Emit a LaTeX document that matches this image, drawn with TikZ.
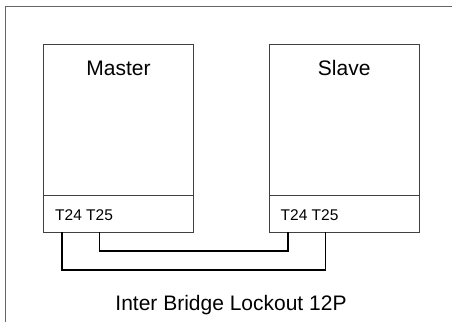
\documentclass[tikz,border=0pt]{standalone}
\usepackage{fontspec}
\setmainfont{Liberation Sans}
\begin{document}
\begin{tikzpicture}[x=1pt,y=-1pt,
  unitbox/.style={draw=black!75, line width=0.9pt, minimum width=150.4pt,
                  inner sep=0pt, outer sep=0pt, anchor=north west},
  wire/.style={draw=black, line width=1.6pt},
  title/.style={anchor=base, inner sep=0pt, font=\fontsize{21}{25}\selectfont},
  termtext/.style={anchor=base west, inner sep=0pt, font=\fontsize{15.5}{18}\selectfont}]
\useasboundingbox (0,0) rectangle (452,322);
% frame
\draw[black!60, line width=1pt] (5.5,322) -- (5.5,6.8) -- (452,6.8);
% master unit
\node[unitbox, minimum height=150.6pt] (mbody) at (43.3,44.7) {};
\node[unitbox, minimum height=37pt] (mterm) at (43.3,195.3) {};
\node[title] (mname) at (118.5,75) {Master};
\node[termtext] (mpins) at (55,220) {T24 T25};
% slave unit
\node[unitbox, minimum height=150.6pt] (sbody) at (269,44.7) {};
\node[unitbox, minimum height=37pt] (sterm) at (269,195.3) {};
\node[title] (sname) at (344.2,75) {Slave};
\node[termtext] (spins) at (280.5,220) {T24 T25};
% terminal points
\coordinate (m24) at (61.7,232.3);
\coordinate (m25) at (99.3,232.3);
\coordinate (s24) at (288,232.3);
\coordinate (s25) at (325.6,232.3);
% interconnect wiring
\draw[wire] (m25) -- ++(0,18.7) -| (s24);
\draw[wire] (m24) -- ++(0,37.7) -| (s25);
% caption
\node[title] (caption) at (231,310) {Inter Bridge Lockout 12P};
\end{tikzpicture}
\end{document}
